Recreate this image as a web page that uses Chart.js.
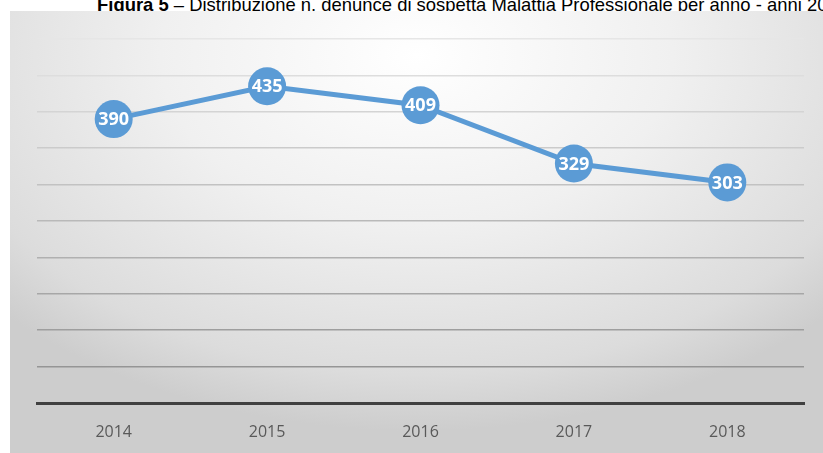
<!DOCTYPE html>
<html lang="it">
<head>
  <meta charset="UTF-8">
  <title>Figura 5</title>
  <script src="https://cdn.jsdelivr.net/npm/chart.js"></script>
  <style>
    body {
      margin: 0;
      width: 823px;
      height: 453px;
      overflow: hidden;
      background: #ffffff;
      position: relative;
    }
    .title {
      position: absolute;
      left: 97px;
      top: -6px;
      white-space: nowrap;
      font-family: 'Liberation Sans Narrow', 'Arial Narrow', 'Liberation Sans', sans-serif;
      font-size: 19px;
      color: #000;
      transform: scaleX(0.97);
      transform-origin: left top;
    }
    .box {
      position: absolute;
      left: 10px;
      top: 11px;
      width: 813px;
      height: 442px;
      background: radial-gradient(ellipse 70% 85% at 50% 10%, #ffffff 0%, #f0f0f0 45%, #dcdcdc 85%, #cdcdcd 100%);
    }
    canvas { display: block; }
  </style>
</head>
<body>
  <div class="title"><b>Figura 5</b> – Distribuzione n. denunce di sospetta Malattia Professionale per anno - anni 2014-2018</div>
  <div class="box">
    <canvas id="lineCanvas" width="813" height="442"></canvas>
  </div>

  <script>
    const years = ['2014', '2015', '2016', '2017', '2018'];
    const denunce = [390, 435, 409, 329, 303];
    const yMax = 500;
    const yStep = 50;

    // white numbers inside the markers
    const pointLabels = {
      id: 'pointLabels',
      afterDatasetsDraw(chart) {
        const ctx = chart.ctx;
        const meta = chart.getDatasetMeta(0);
        ctx.save();
        ctx.fillStyle = '#ffffff';
        ctx.font = 'bold 18px "Open Sans", sans-serif';
        ctx.textAlign = 'center';
        ctx.textBaseline = 'middle';
        meta.data.forEach((pt, i) => {
          ctx.fillText(denunce[i], pt.x, pt.y + 1);
        });
        ctx.restore();
      }
    };

    new Chart(document.getElementById('lineCanvas').getContext('2d'), {
      type: 'line',
      data: {
        labels: years,
        datasets: [{
          data: denunce,
          borderColor: '#5b9bd5',
          borderWidth: 5,
          backgroundColor: '#5b9bd5',
          pointRadius: 19,
          pointBackgroundColor: '#5b9bd5',
          pointBorderWidth: 0,
          tension: 0
        }]
      },
      options: {
        responsive: false,
        animation: false,
        layout: { padding: { left: 27, right: 13, top: 28, bottom: 10 } },
        plugins: {
          legend: { display: false },
          tooltip: { enabled: false }
        },
        scales: {
          x: {
            offset: true,
            grid: { display: false, drawTicks: false },
            border: { display: true, color: '#404040', width: 3 },
            ticks: {
              color: '#595959',
              padding: 20,
              font: { family: '"Open Sans", sans-serif', size: 16 }
            },
            afterFit: (scale) => { scale.height = 40; }
          },
          y: {
            min: 0,
            max: yMax,
            ticks: { display: false, stepSize: yStep },
            border: { display: false },
            grid: {
              drawTicks: false,
              lineWidth: 1.5,
              color: (c) => {
                if (c.index === 0) return 'rgba(0,0,0,0)';
                const shade = 140 + c.index * 9;
                return `rgb(${shade},${shade},${shade})`;
              }
            }
          }
        }
      },
      plugins: [pointLabels]
    });
  </script>
</body>
</html>
